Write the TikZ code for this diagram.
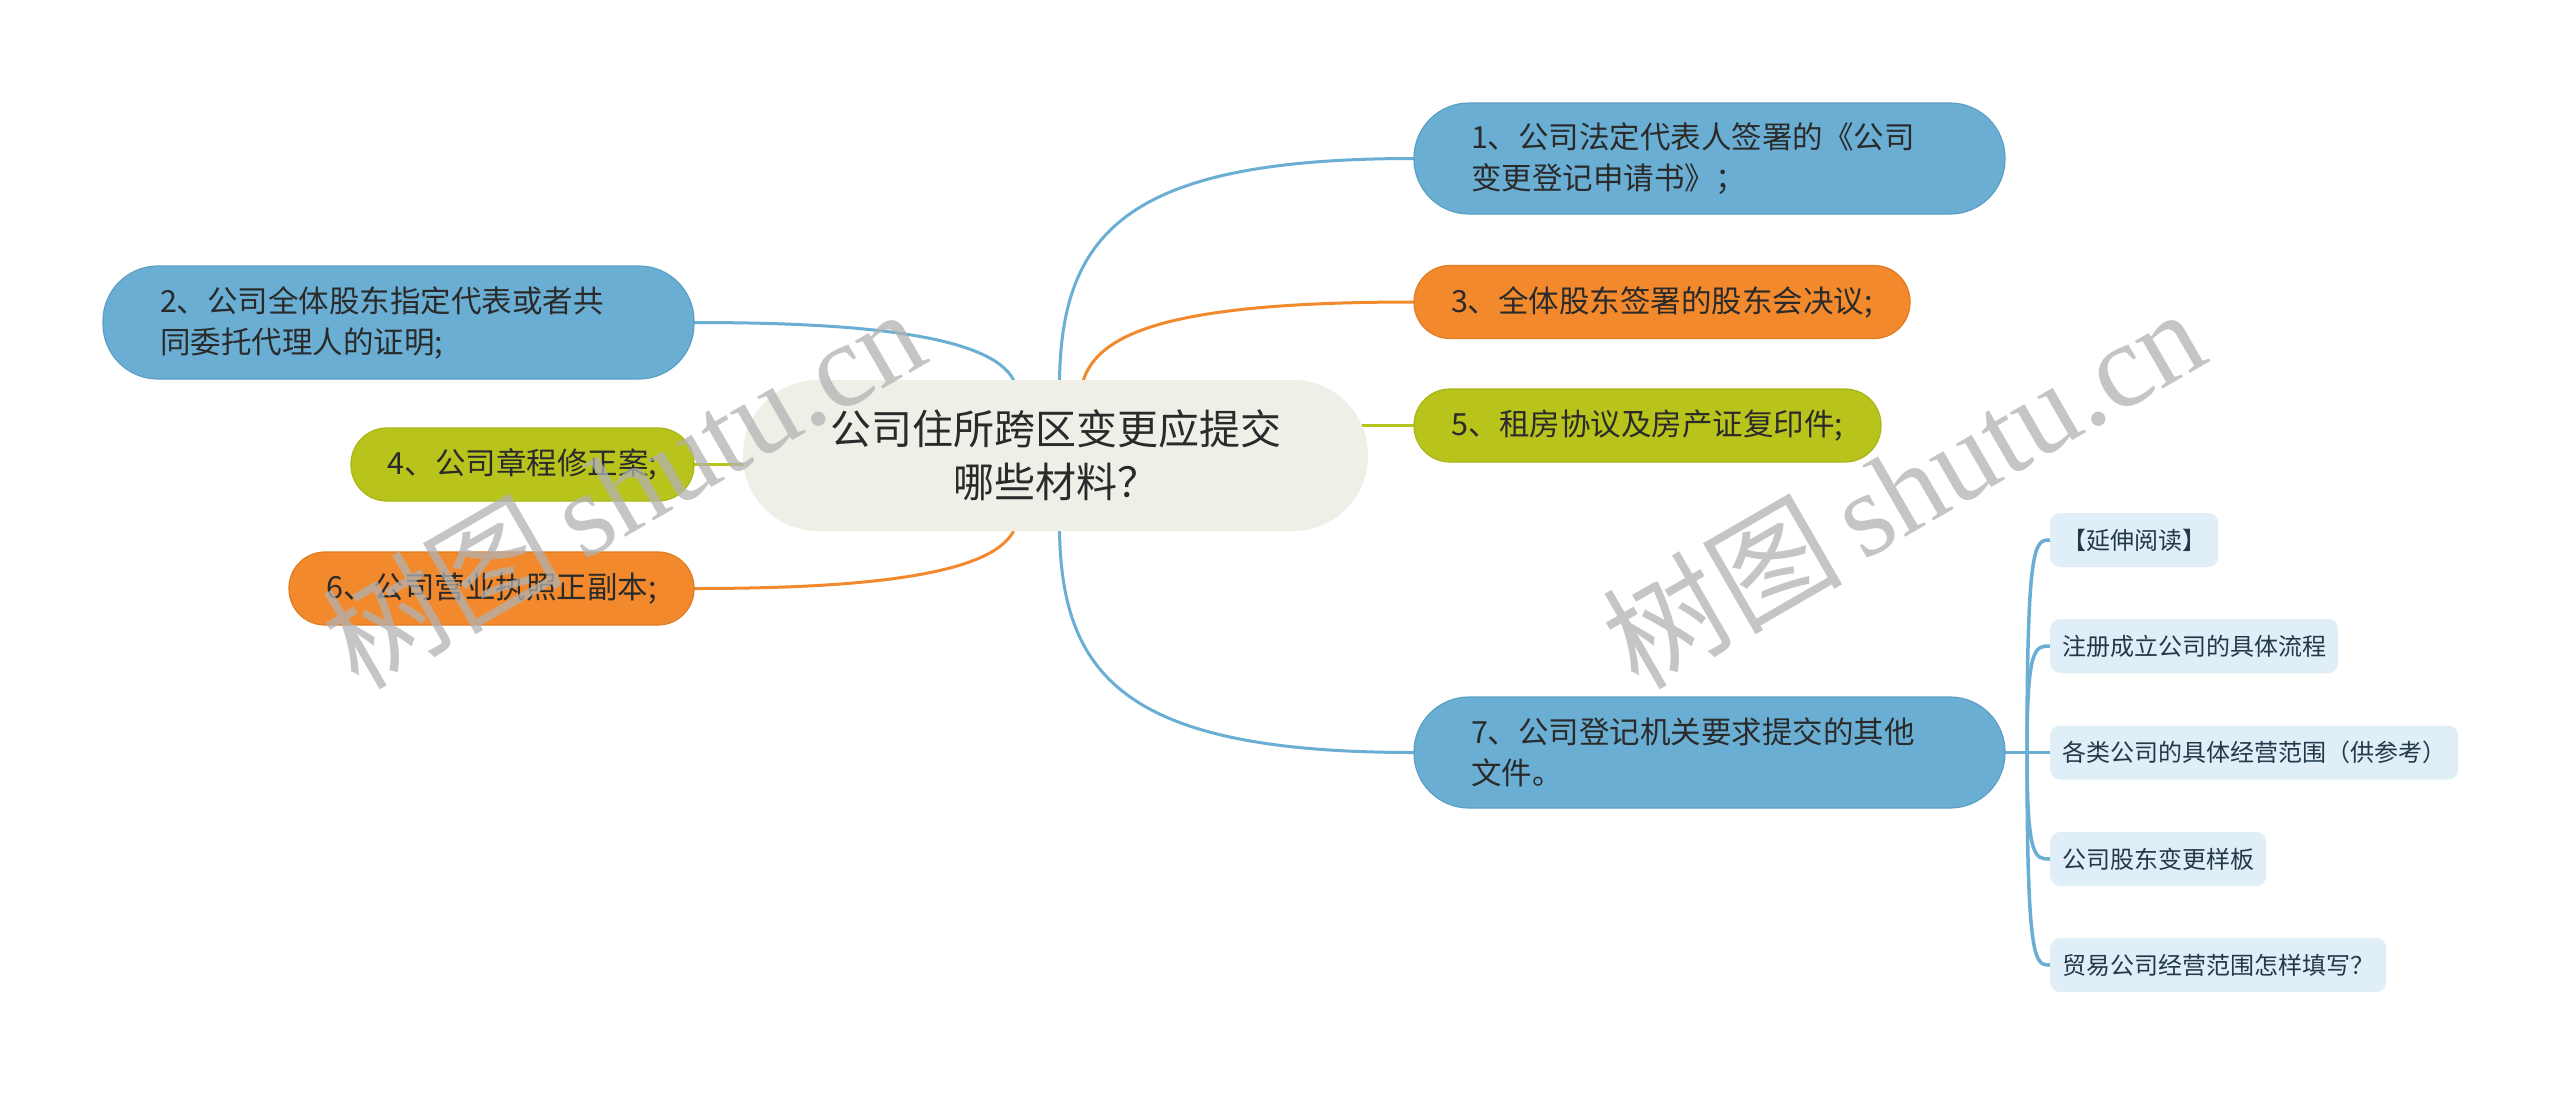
\documentclass[tikz,border=0pt]{standalone}
\usepackage{fontspec}
\setmainfont{Noto Sans CJK SC}
\newfontfamily\wmlatin{Liberation Serif}
\newfontfamily\wmcjk{Noto Sans CJK SC}
\definecolor{cblue}{HTML}{6AAFD3}
\definecolor{cblueb}{HTML}{5C9FC4}
\definecolor{corange}{HTML}{F28A2D}
\definecolor{corangeb}{HTML}{E07C22}
\definecolor{cgreen}{HTML}{B8C41C}
\definecolor{cgreenb}{HTML}{AAB618}
\definecolor{ccenter}{HTML}{EFEFE7}
\definecolor{csub}{HTML}{DFEEF7}
\definecolor{csubtext}{HTML}{23394A}
\definecolor{ctext}{HTML}{2A2A2A}
\pgfdeclarelayer{back}
\pgfdeclarelayer{lines}
\pgfsetlayers{back,lines,main}
\begin{document}
\begin{tikzpicture}[x=1pt,y=-1pt,
  centerbox/.style={fill=ccenter, rounded corners=75pt, minimum width=625pt, minimum height=151pt,
    inner sep=0pt, align=center, text=ctext, font=\fontsize{41}{53}\selectfont},
  twoline/.style={rounded corners=55pt, minimum width=591pt, minimum height=111pt, text width=477pt,
    inner xsep=57pt, inner ysep=0pt, align=left, text=ctext, font=\fontsize{30.5}{41}\selectfont, line width=1.2pt},
  oneline/.style={rounded corners=36pt, minimum height=73pt, inner sep=0pt, align=center,
    text=ctext, font=\fontsize{30.5}{41}\selectfont, line width=1.2pt},
  bluenode/.style={fill=cblue, draw=cblueb},
  orangenode/.style={fill=corange, draw=corangeb},
  greennode/.style={fill=cgreen, draw=cgreenb},
  subbox/.style={fill=csub, rounded corners=10pt, minimum height=54pt, inner xsep=12pt, inner ysep=0pt,
    anchor=west, text=csubtext, font=\fontsize{24}{30}\selectfont},
  conn/.style={line width=3pt, line cap=round},
  subconn/.style={line width=3.5pt, draw=cblue, line cap=round},
  watermark/.style={rotate=30, anchor=base west, text=black!30, opacity=0.75, inner sep=0pt}
]
\begin{pgfonlayer}{back}
\fill[white] (0,0) rectangle (2560,1095);
\end{pgfonlayer}
\useasboundingbox (0,0) rectangle (2560,1095);

% center
\node[centerbox] (c) at (1055.5,455.5) {公司住所跨区变更应提交\\哪些材料？};

% right branches
\node[twoline,bluenode] (n1) at (1709.5,158.5) {1、公司法定代表人签署的《公司\\变更登记申请书》；};
\node[oneline,orangenode,minimum width=496pt] (n3) at (1662,302) {3、全体股东签署的股东会决议;};
\node[oneline,greennode,minimum width=467pt] (n5) at (1647.5,425.5) {5、租房协议及房产证复印件;};
\node[twoline,bluenode] (n7) at (1709.5,752.5) {7、公司登记机关要求提交的其他\\文件。};

% left branches
\node[twoline,bluenode,minimum height=113pt] (n2) at (398.5,322.5) {2、公司全体股东指定代表或者共\\同委托代理人的证明;};
\node[oneline,greennode,minimum width=343pt] (n4) at (522.5,464.5) {4、公司章程修正案;};
\node[oneline,orangenode,minimum width=405pt] (n6) at (491.5,588.5) {6、公司营业执照正副本;};

% sub nodes
\node[subbox] (k1) at (2050,540) {【延伸阅读】};
\node[subbox] (k2) at (2050,646) {注册成立公司的具体流程};
\node[subbox] (k3) at (2050,752.5) {各类公司的具体经营范围（供参考）};
\node[subbox] (k4) at (2050,859) {公司股东变更样板};
\node[subbox] (k5) at (2050,965) {贸易公司经营范围怎样填写？};

\coordinate (bp) at (2027,752.5);

\begin{pgfonlayer}{lines}
\draw[conn,cblue] ([xshift=4pt]c.north) .. controls (1062,230) and (1130,158.5) .. (n1.west);
\draw[conn,corange] ([xshift=28pt]c.north) .. controls (1100,330) and (1180,302) .. (n3.west);
\draw[conn,cgreen] ([shift={(-10pt,30pt)}]c.east) -- (n5.west);
\draw[conn,cblue] ([xshift=4pt]c.south) .. controls (1062,680) and (1130,752.5) .. (n7.west);
\draw[conn,cblue] (n2.east) .. controls (860,322.5) and (990,335) .. ([xshift=-42pt]c.north);
\draw[conn,cgreen] (n4.east) -- ([shift={(10pt,-9pt)}]c.west);
\draw[conn,corange] (n6.east) .. controls (860,588.5) and (990,576) .. ([xshift=-42pt]c.south);

\draw[subconn] (n7.east) -- (bp);
\draw[subconn] (bp) .. controls (2027,540) and (2035,540) .. (k1.west);
\draw[subconn] (bp) .. controls (2027,646) and (2035,646) .. (k2.west);
\draw[subconn] (bp) -- (k3.west);
\draw[subconn] (bp) .. controls (2027,859) and (2035,859) .. (k4.west);
\draw[subconn] (bp) .. controls (2027,965) and (2035,965) .. (k5.west);
\end{pgfonlayer}

% watermarks
\node[watermark] (w1) at (358,692) {\fontsize{120}{120}\selectfont\wmcjk 树图\,\wmlatin shutu.cn};
\node[watermark] (w2) at (1638,692) {\fontsize{120}{120}\selectfont\wmcjk 树图\,\wmlatin shutu.cn};
\end{tikzpicture}
\end{document}
